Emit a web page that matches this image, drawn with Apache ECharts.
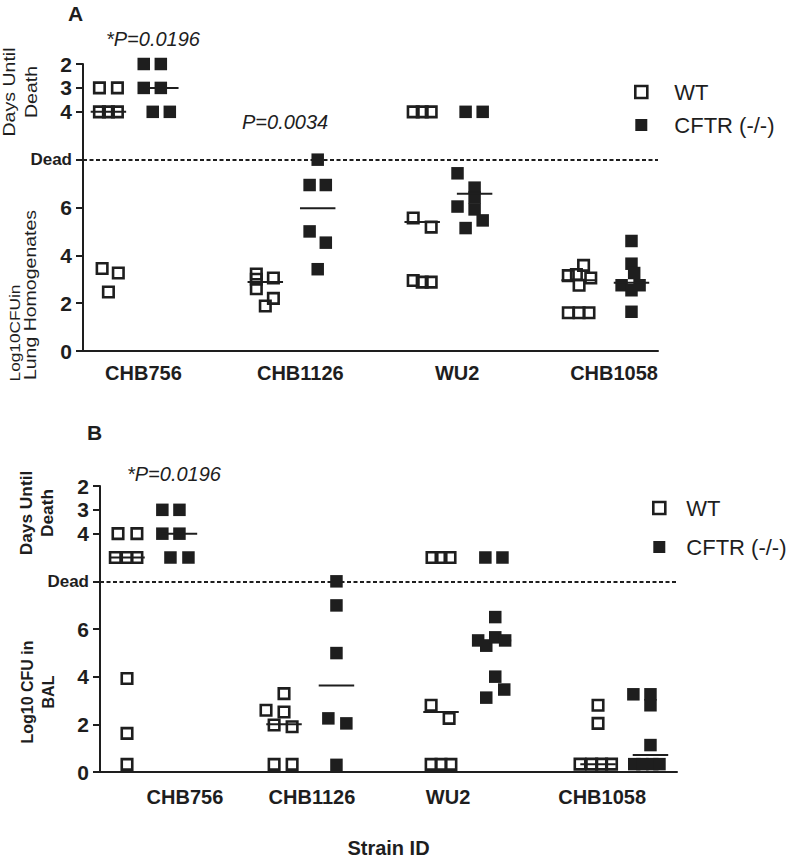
<!DOCTYPE html>
<html><head><meta charset="utf-8">
<script src="https://cdn.jsdelivr.net/npm/echarts@6/dist/echarts.min.js"></script>
<style>html,body{margin:0;padding:0;background:#fff}#c{width:795px;height:861px}</style>
</head><body><div id="c"></div>
<script>
// ---------- DATA ----------
const strains = ['CHB756', 'CHB1126', 'WU2', 'CHB1058'];
const yTickValues = [0, 2, 4, 6, 8, 10, 11, 12];
const yTickLabels = {0: '0', 2: '2', 4: '4', 6: '6', 8: 'Dead', 10: '4', 11: '3', 12: '2'};
const DEAD_LEVEL = 8;          // "Dead" line on the axis
const DAY_BASE = 14;           // axis value = 14 - day  (day 4 -> 10, 3 -> 11, 2 -> 12)

// Panel A — per strain, [jitter slot, value]
const aWtDays = [[[-1, 3], [1, 3], [-1, 4], [0, 4], [1, 4]], [], [[-1, 4], [0, 4], [1, 4]], []];
const aCftrDays = [[[-1.9, 2], [0, 2], [-1.9, 3], [0, 3], [-0.9, 4], [1, 4]], [], [[-1, 4], [0.9, 4]], []];
const aWtCfu = [
  [[-0.7, 3.45], [1.1, 3.26], [0, 2.47]],
  [[-1, 3.22], [-1, 3.0], [-1, 2.6], [0.9, 3.05], [0.9, 2.2], [0, 1.88]],
  [[-1, 5.56], [1, 5.18], [-1, 2.95], [0, 2.88], [1, 2.88]],
  [[0.5, 3.58], [-1.2, 3.15], [-0.3, 3.2], [1.3, 3.05], [0, 2.75], [-1.2, 1.6], [0, 1.6], [1.1, 1.6]]
];
const aCftrCfu = [
  [],
  [[0, 8.0], [-0.9, 6.94], [0.9, 6.94], [-0.9, 5.0], [0.9, 4.53], [0, 3.42]],
  [[-1.9, 7.43], [0, 6.83], [0, 6.42], [-1.9, 6.04], [0, 5.92], [0.9, 5.46], [-1, 5.14]],
  [[0, 4.6], [0, 3.65], [0.3, 3.26], [-1.1, 2.75], [0.9, 2.75], [0, 2.54], [0, 1.64]]
];
const aWtMedianDay = [4, null, null, null];
const aWtMedianCfu = [null, 2.89, 5.39, 2.96];
const aCftrMedianDay = [3, null, null, null];
const aCftrMedianCfu = [null, 5.97, 6.57, 2.85];

// Panel B
const bWtDays = [[[-1, 4], [1.1, 4], [-1.3, 5], [0, 5], [1.1, 5]], [], [[-1, 5], [0, 5], [1, 5]], []];
const bCftrDays = [[[-1.9, 3], [0, 3], [-1.9, 4], [0, 4], [-1, 5], [1, 5]], [], [[-0.9, 5], [1, 5]], []];
const bWtCfu = [
  [[0, 3.92], [0, 1.62], [0, 0.32]],
  [[-2, 2.59], [0, 3.29], [0, 2.52], [-1.1, 1.97], [0.9, 1.9], [-1.1, 0.32], [0.9, 0.32]],
  [[-1.1, 2.8], [0.9, 2.25], [-1.1, 0.32], [0, 0.32], [1.1, 0.32]],
  [[0, 2.8], [0, 2.04], [-2, 0.33], [-0.7, 0.33], [0.4, 0.33], [1.5, 0.33]]
];
const bCftrCfu = [
  [],
  [[0, 8.0], [0, 6.99], [0, 4.99], [-0.9, 2.25], [1.1, 2.04], [0, 0.3]],
  [[0.2, 6.5], [-1.7, 5.52], [-0.8, 5.3], [0.2, 5.65], [1.3, 5.52], [0.2, 4.0], [1.2, 3.46], [-0.8, 3.12]],
  [[-1.9, 3.26], [0, 3.26], [0, 2.8], [0, 1.13], [-1.8, 0.33], [-0.9, 0.33], [0.2, 0.33], [1, 0.33]]
];
const bWtMedianDay = [5, null, null, null];
const bWtMedianCfu = [null, 2.0, 2.52, 0.33];
const bCftrMedianDay = [4, null, null, null];
const bCftrMedianCfu = [null, 3.63, 5.52, 0.71];

// category label positions on the x axis (strain units)
const aLabelPos = [0, 1, 2, 3];
const bLabelPos = [0.146, 0.955, 1.822, 2.803];

// ---------- LAYOUT ----------
const WT_OFF = -0.223, CFTR_OFF = 0.111, SLOT = 0.0573, MEDIAN_HALF = 0.113;
const INK = '#1e1e1e';
const FONT = "'Liberation Sans', Arial, sans-serif";

function toPoints(groups, off, isDays) {
  const out = [];
  groups.forEach((g, i) => g.forEach(([s, v]) => out.push([i + off + s * SLOT, isDays ? DAY_BASE - v : v])));
  return out;
}
function medians(days, cfu, off) {
  const out = [];
  strains.forEach((_, i) => {
    if (days[i] != null) out.push([i + off, DAY_BASE - days[i]]);
    else if (cfu[i] != null) out.push([i + off, cfu[i]]);
  });
  return out;
}

function xAxisFor(idx, min, max, labelPos, margin, extra) {
  return Object.assign({
    gridIndex: idx, type: 'value', min: min, max: max,
    axisLine: {show: true, onZero: false, lineStyle: {color: INK, width: 2}},
    axisTick: {show: false}, splitLine: {show: false},
    axisLabel: {
      customValues: labelPos, margin: margin, color: INK, fontFamily: FONT,
      fontWeight: 'bold', fontSize: 20,
      formatter: (v) => {
        let best = 0, d = 1e9;
        labelPos.forEach((p, k) => { if (Math.abs(p - v) < d) { d = Math.abs(p - v); best = k; } });
        return strains[best];
      }
    }
  }, extra || {});
}
function yAxisFor(idx) {
  return {
    gridIndex: idx, type: 'value', min: 0, max: 12,
    axisLine: {show: true, onZero: false, lineStyle: {color: INK, width: 2}},
    axisTick: {show: true, customValues: yTickValues, length: 7, lineStyle: {color: INK, width: 2}},
    splitLine: {show: false},
    axisLabel: {
      customValues: yTickValues, margin: 11, color: INK, fontFamily: FONT,
      fontWeight: 'bold', fontSize: 21,
      formatter: (v) => {
        const r = Math.round(v);
        return r === DEAD_LEVEL ? '{d|Dead}' : yTickLabels[r];
      },
      rich: {d: {fontSize: 17, fontWeight: 'bold', fontFamily: FONT, color: INK}}
    }
  };
}

const wtStyle = {color: 'rgba(0,0,0,0)', borderColor: INK, borderWidth: 2.6, opacity: 1};
const cftrStyle = {color: INK, opacity: 1};

function scatter(name, idx, data, isWt, withDead) {
  const s = {
    name: name, type: 'scatter', xAxisIndex: idx, yAxisIndex: idx,
    symbol: 'rect', symbolSize: isWt ? 10.5 : 12.5,
    itemStyle: isWt ? wtStyle : cftrStyle,
    emphasis: {disabled: true}, z: 2, data: data
  };
  if (withDead) {
    s.markLine = {
      silent: true, symbol: 'none', label: {show: false},
      lineStyle: {type: [4, 2.5], color: INK, width: 2, opacity: 1},
      data: [{yAxis: DEAD_LEVEL}]
    };
  }
  return s;
}
function medianSeries(idx, data) {
  return {
    type: 'custom', xAxisIndex: idx, yAxisIndex: idx, z: 3, silent: true,
    renderItem: (params, api) => {
      const c = api.coord([api.value(0), api.value(1)]);
      const hw = api.size([MEDIAN_HALF, 0])[0];
      return {type: 'line', shape: {x1: c[0] - hw, y1: c[1], x2: c[0] + hw, y2: c[1]},
              style: {stroke: INK, lineWidth: 2}};
    },
    data: data
  };
}
function legendFor(left, top, gap, pad) {
  return {
    orient: 'vertical', left: left, top: top, itemWidth: 12, itemHeight: 12, itemGap: gap,
    selectedMode: false,
    textStyle: {fontSize: 22, color: INK, fontFamily: FONT, padding: [0, 0, 0, pad]},
    data: [
      {name: 'WT', icon: 'rect', itemStyle: {color: 'rgba(0,0,0,0)', borderColor: INK, borderWidth: 2.6, opacity: 1}},
      {name: 'CFTR (-/-)', icon: 'rect', itemStyle: {color: INK, borderWidth: 0, opacity: 1}}
    ]
  };
}
function txt(x, y, text, font) {
  return {
    type: 'text', x: x, y: y, silent: true,
    style: {text: text, font: font, fill: INK, align: 'left', verticalAlign: 'middle',
            textAlign: 'left', textVerticalAlign: 'middle'}
  };
}
function vtxt(x, y, text, font, lineHeight, scaleX) {
  return {
    type: 'text', x: x, y: y, rotation: Math.PI / 2, scaleX: scaleX || 1, silent: true,
    style: {text: text, font: font, fill: INK, lineHeight: lineHeight,
            align: 'center', verticalAlign: 'middle', textAlign: 'center', textVerticalAlign: 'middle'}
  };
}

const chart = echarts.init(document.getElementById('c'), null, {renderer: 'svg'});
chart.setOption({
  backgroundColor: '#fff',
  animation: false,
  grid: [
    {left: 83, top: 64, width: 575, height: 287},
    {left: 100, top: 486, width: 577, height: 286}
  ],
  xAxis: [
    xAxisFor(0, -0.385, 3.28, aLabelPos, 12),
    xAxisFor(1, -0.395, 3.28, bLabelPos, 15, {
      name: 'Strain ID', nameLocation: 'middle', nameGap: 66,
      nameTextStyle: {fontSize: 20, fontWeight: 'bold', color: INK, fontFamily: FONT}
    })
  ],
  yAxis: [yAxisFor(0), yAxisFor(1)],
  legend: [legendFor(629, 76, 11, 22), legendFor(647, 492, 17, 16)],
  series: [
    scatter('WT', 0, toPoints(aWtDays, WT_OFF, true).concat(toPoints(aWtCfu, WT_OFF, false)), true, true),
    scatter('CFTR (-/-)', 0, toPoints(aCftrDays, CFTR_OFF, true).concat(toPoints(aCftrCfu, CFTR_OFF, false)), false, false),
    medianSeries(0, medians(aWtMedianDay, aWtMedianCfu, WT_OFF).concat(medians(aCftrMedianDay, aCftrMedianCfu, CFTR_OFF))),
    scatter('WT', 1, toPoints(bWtDays, WT_OFF, true).concat(toPoints(bWtCfu, WT_OFF, false)), true, true),
    scatter('CFTR (-/-)', 1, toPoints(bCftrDays, CFTR_OFF, true).concat(toPoints(bCftrCfu, CFTR_OFF, false)), false, false),
    medianSeries(1, medians(bWtMedianDay, bWtMedianCfu, WT_OFF).concat(medians(bCftrMedianDay, bCftrMedianCfu, CFTR_OFF)))
  ],
  graphic: [
    txt(68, 13, 'A', "bold 21px " + FONT),
    txt(87, 432, 'B', "bold 21px " + FONT),
    txt(106, 39, '*P=0.0196', "italic 20px " + FONT),
    txt(242, 122, 'P=0.0034', "italic 20px " + FONT),
    txt(127, 474, '*P=0.0196', "italic 20px " + FONT),
    vtxt(20, 92, 'Days Until\nDeath', "17px " + FONT, 22, 1.15),
    vtxt(31, 295, 'Lung Homogenates', "16px " + FONT, 18, 1.22),
    vtxt(14, 333, 'Log10CFUin', "15px " + FONT, 18, 1.15),
    vtxt(37.5, 513, 'Days Until\nDeath', "bold 16px " + FONT, 21, 1.08),
    vtxt(37.5, 692, 'Log10 CFU in\nBAL', "bold 16px " + FONT, 21, 1)
  ]
});
</script></body></html>
